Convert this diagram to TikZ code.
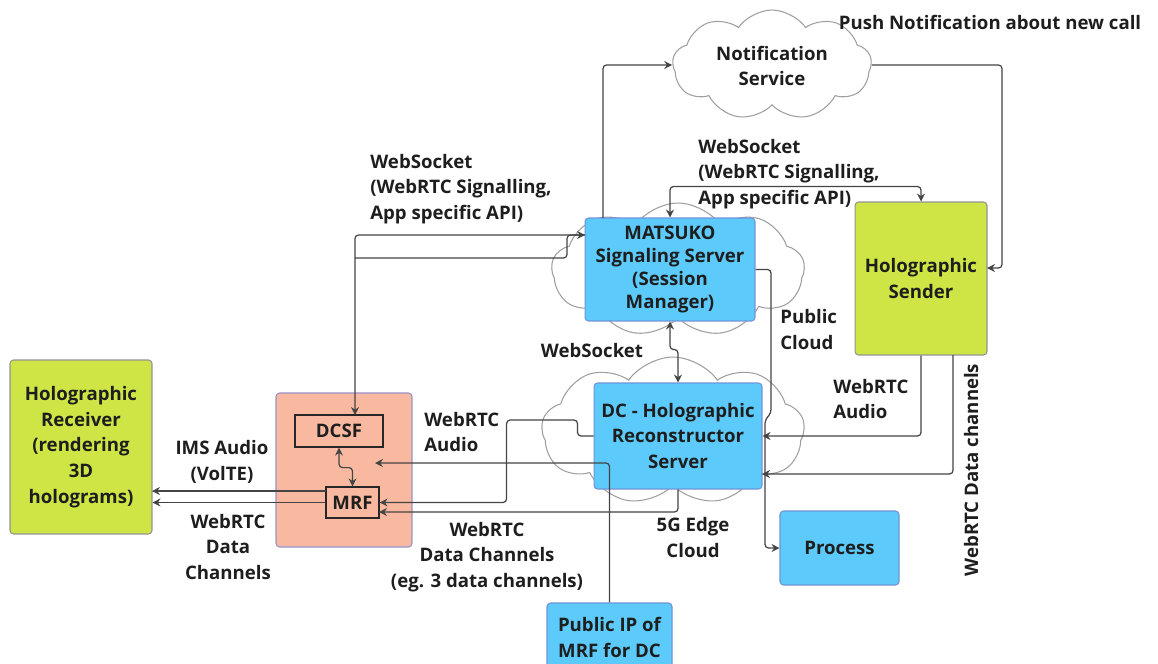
\documentclass[tikz,border=0pt]{standalone}
\usepackage{fontspec}
\setmainfont{Open Sans}
\usetikzlibrary{arrows.meta,positioning,shapes.symbols,calc}
\definecolor{limeG}{HTML}{CFE545}
\definecolor{skyB}{HTML}{5CCBFB}
\definecolor{salmonO}{HTML}{F8B9A0}
\definecolor{lineG}{HTML}{444444}
\definecolor{txtD}{HTML}{1E1E1E}
\definecolor{bordB}{HTML}{6F93D8}
\definecolor{bordO}{HTML}{9A90C8}
\tikzstyle{nTxt}=[font=\fontsize{10.6}{14.7}\selectfont\bfseries, text=txtD, align=center]
\tikzstyle{nBox}=[nTxt, draw, rounded corners=2pt, line width=0.6pt, inner sep=0pt]
\tikzstyle{nGreen}=[nBox, fill=limeG, draw=gray!85]
\tikzstyle{nBlue}=[nBox, fill=skyB, draw=bordB]
\tikzstyle{nSalmon}=[nBox, fill=salmonO, draw=bordO]
\tikzstyle{nInner}=[nTxt, draw=black!85, line width=0.7pt, inner sep=0pt]
\tikzstyle{nCloud}=[cloud, cloud puffs=9, cloud puff arc=110, cloud ignores aspect, draw=gray!75, fill=white, line width=0.6pt, inner sep=0pt]
\tikzstyle{nLbl}=[nTxt, inner sep=0pt]
\tikzstyle{eLine}=[draw=lineG, line width=0.7pt, rounded corners=2pt]
\tikzstyle{eArr}=[eLine, -{Stealth[length=4.5pt,width=4.5pt]}]
\tikzstyle{eArrB}=[eLine, {Stealth[length=4.5pt,width=4.5pt]}-{Stealth[length=4.5pt,width=4.5pt]}]

\begin{document}
\begin{tikzpicture}[x=0.02cm, y=-0.02cm]
                \useasboundingbox (0,0) rectangle (1158,663);
                \clip (0,0) rectangle (1158,663);
                % clouds
                \draw (772,65) node[nCloud, minimum width=3.98cm, minimum height=2.2cm] (notif) {};
                \draw (678,270) node[nCloud, minimum width=5.06cm, minimum height=2.68cm] (mCloud) {};
                \draw (673,431) node[nCloud, minimum width=5.26cm, minimum height=2.96cm] (dCloud) {};
                \draw (772,66) node[nLbl] (notifT) {Notification\\Service};
                % boxes
                \draw (670,269.5) node[nBlue, minimum width=3.4cm, minimum height=2.06cm, font=\fontsize{10.6}{13.2}\selectfont\bfseries] (matsuko) {MATSUKO\\Signaling Server\\(Session\\Manager)};
                \draw (678,436) node[nBlue, minimum width=3.36cm, minimum height=2.12cm] (dc) {DC - Holographic\\Reconstructor\\Server};
                \draw (921,278.5) node[nGreen, minimum width=2.64cm, minimum height=3.06cm] (sender) {Holographic\\Sender};
                \draw (839.5,548) node[nBlue, minimum width=2.38cm, minimum height=1.48cm] (process) {Process};
                \draw (609.5,637.5) node[nBlue, minimum width=2.5cm, minimum height=1.38cm] (pubip) {Public IP of\\MRF for DC};
                \draw (81,447) node[nGreen, minimum width=2.84cm, minimum height=3.48cm] (recv) {Holographic\\Receiver\\(rendering\\3D\\holograms)};
                \draw (344,470) node[nSalmon, minimum width=2.72cm, minimum height=3.08cm] (mrfHost) {};
                \draw (339,431) node[nInner, minimum width=1.76cm, minimum height=0.64cm] (dcsf) {DCSF};
                \draw (352.5,502.5) node[nInner, minimum width=1.06cm, minimum height=0.62cm] (mrf) {MRF};
                % labels
                \draw (990,22) node[nLbl] (lPush) {Push Notification about new call};
                \draw (370,189) node[nLbl, align=left, anchor=west] (lWsL) {WebSocket\\(WebRTC Signalling,\\App specific API)};
                \draw (698,174) node[nLbl, align=left, anchor=west] (lWsR) {WebSocket\\(WebRTC Signalling,\\App specific API)};
                \draw (780,329.5) node[nLbl, align=left, anchor=west] (lPub) {Public\\Cloud};
                \draw (592,351) node[nLbl] (lWsM) {WebSocket};
                \draw (424,432) node[nLbl, align=left, anchor=west] (lAudL) {WebRTC\\Audio};
                \draw (833,399) node[nLbl, align=left, anchor=west] (lAudR) {WebRTC\\Audio};
                \draw (487,557) node[nLbl] (lDch) {WebRTC\\Data Channels\\(eg. 3 data channels)};
                \draw (693,537.5) node[nLbl] (lEdge) {5G Edge\\Cloud};
                \draw (971,470) node[nLbl, rotate=90] (lDchR) {WebRTC Data channels};
                \draw (222,462) node[nLbl] (lIms) {IMS Audio\\(VolTE)};
                \draw (228,547) node[nLbl] (lDchL) {WebRTC\\Data\\Channels};
                % connector ends
                \coordinate (nJ) at (603,218);
                \coordinate (sR) at (987,268);
                \coordinate (dT) at (355,415);
                \coordinate (mL) at (585,235);
                \coordinate (wJ) at (355,258);
                \coordinate (pc1) at (771,413);
                \coordinate (pc2) at (765,420);
                \coordinate (sB) at (953,355);
                \coordinate (dR) at (762,474);
                \coordinate (oA) at (375,463);
                \coordinate (mR) at (379,512);
                \coordinate (mW1) at (326,491);
                \coordinate (rE1) at (152,491);
                % connectors
                \draw[eArr] (nJ) |- (notif.west);
                \draw[eArr] (notif.east) -| ([xshift=0.3cm]sR) -- (sR);
                \draw[eArrB] (matsuko.north) -- ++(0,-31) -| (sender.north);
                \draw[eArrB] (dT) |- (mL);
                \draw[eLine] (wJ) -| ([xshift=-0.36cm]mL) -- (mL);
                \draw[eArrB] (matsuko.south) -- ++(0,28) -| (dc.north);
                \draw[eArr] (matsuko.east) -| (pc1) -- (pc2) |- (process.west);
                \draw[eArr] (sender.south) |- (dc.east);
                \draw[eArr] (sB) |- (dR);
                \draw[eArr] (dc.west) -- ++(-16,0) -- ++(0,-16) -| ([xshift=2.54cm]mrf.east) -- (mrf.east);
                \draw[eArr] (pubip.north) |- (oA);
                \draw[eArr] (dc.south) |- (mR);
                \draw[eArrB] (dcsf.south) -- ++(0,20) -| (mrf.north);
                \draw[eArr] (mW1) -- (rE1);
                \draw[eArr] (mrf.west) -- (mrf.west -| recv.east);
        \end{tikzpicture}
\end{document}
